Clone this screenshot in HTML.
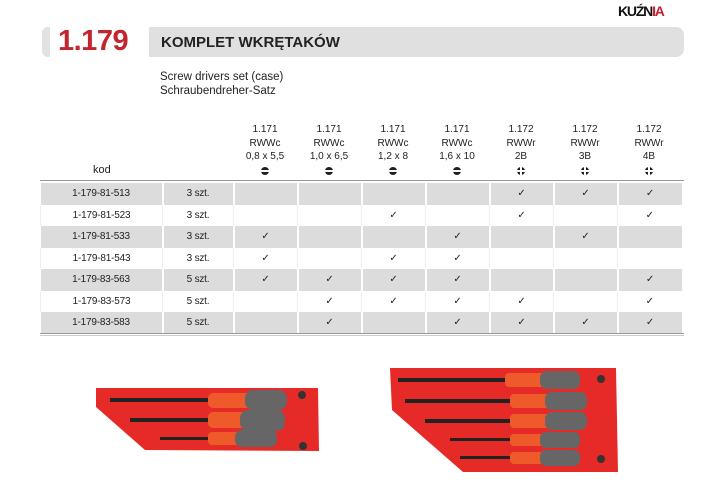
<!DOCTYPE html>
<html><head><meta charset="utf-8"><style>
body{margin:0;width:724px;height:482px;background:#fff;position:relative;overflow:hidden;font-family:"Liberation Sans",sans-serif;color:#222}
.abs{position:absolute}
table{position:absolute;left:40px;top:183px;border-collapse:collapse;font-size:10px;letter-spacing:-0.2px}
td{height:21.5px;padding:0;text-align:center;border-left:2px solid #fff;color:#222}
tr.g td{background:#dcdcdc}
tr.w td{border-left:1px solid #eee}
td:first-child{border-left:none}
.hd{position:absolute;top:123px;width:64px;text-align:center;font-size:10px;line-height:13.5px;color:#222}
.ic{display:inline-block;width:8px;height:8px;border-radius:50%;background:#222;position:relative;margin-top:3px}
.ic.s::after{content:"";position:absolute;left:0;right:0;top:3px;height:2px;background:#fff}
.ic.p::before{content:"";position:absolute;left:0;right:0;top:3px;height:2px;background:#fff}
.ic.p::after{content:"";position:absolute;top:0;bottom:0;left:3px;width:2px;background:#fff}
</style></head><body>
<div class="abs" style="left:618px;top:3px;font:bold 14px 'Liberation Sans',sans-serif;letter-spacing:-1.2px"><span style="color:#111">KUŹN</span><span style="color:#c8202a">IA</span></div>
<div class="abs" style="left:42px;top:27px;width:8px;height:30px;background:#e2e2e2;border-radius:6px 0 0 6px"></div>
<div class="abs" style="left:149px;top:27px;width:535px;height:30px;background:#e0e0e0;border-radius:0 8px 8px 0"></div>
<div class="abs" style="left:58px;top:25px;font:bold 29px 'Liberation Sans',sans-serif;color:#c3252d;letter-spacing:-0.5px">1.179</div>
<div class="abs" style="left:161px;top:34px;font:bold 15px 'Liberation Sans',sans-serif;color:#222">KOMPLET WKRĘTAKÓW</div>
<div class="abs" style="left:160px;top:70px;font-size:11.5px;line-height:14px;color:#222">Screw drivers set (case)<br>Schraubendreher-Satz</div>
<div class="abs" style="left:93px;top:164px;font-size:11px">kod</div>
<div class="hd" style="left:233px">1.171<br>RWWc<br>0,8 x 5,5<br><span class="ic s"></span></div>
<div class="hd" style="left:297px">1.171<br>RWWc<br>1,0 x 6,5<br><span class="ic s"></span></div>
<div class="hd" style="left:361px">1.171<br>RWWc<br>1,2 x 8<br><span class="ic s"></span></div>
<div class="hd" style="left:425px">1.171<br>RWWc<br>1,6 x 10<br><span class="ic s"></span></div>
<div class="hd" style="left:489px">1.172<br>RWWr<br>2B<br><span class="ic p"></span></div>
<div class="hd" style="left:553px">1.172<br>RWWr<br>3B<br><span class="ic p"></span></div>
<div class="hd" style="left:617px">1.172<br>RWWr<br>4B<br><span class="ic p"></span></div>
<div class="abs" style="left:40px;top:180px;width:644px;height:1px;background:#999"></div>
<table>
<colgroup><col style="width:122px"><col style="width:71px"><col style="width:64px"><col style="width:64px"><col style="width:64px"><col style="width:64px"><col style="width:64px"><col style="width:64px"><col style="width:64px"></colgroup>
<tr class="g"><td>1-179-81-513</td><td>3 szt.</td><td></td><td></td><td></td><td></td><td>✓</td><td>✓</td><td>✓</td></tr>
<tr class="w"><td>1-179-81-523</td><td>3 szt.</td><td></td><td></td><td>✓</td><td></td><td>✓</td><td></td><td>✓</td></tr>
<tr class="g"><td>1-179-81-533</td><td>3 szt.</td><td>✓</td><td></td><td></td><td>✓</td><td></td><td>✓</td><td></td></tr>
<tr class="w"><td>1-179-81-543</td><td>3 szt.</td><td>✓</td><td></td><td>✓</td><td>✓</td><td></td><td></td><td></td></tr>
<tr class="g"><td>1-179-83-563</td><td>5 szt.</td><td>✓</td><td>✓</td><td>✓</td><td>✓</td><td></td><td></td><td>✓</td></tr>
<tr class="w"><td>1-179-83-573</td><td>5 szt.</td><td></td><td>✓</td><td>✓</td><td>✓</td><td>✓</td><td></td><td>✓</td></tr>
<tr class="g"><td>1-179-83-583</td><td>5 szt.</td><td></td><td>✓</td><td></td><td>✓</td><td>✓</td><td>✓</td><td>✓</td></tr>
</table>
<div class="abs" style="left:40px;top:333px;width:644px;height:1px;background:#999"></div>
<div class="abs" style="left:40px;top:335px;width:644px;height:1px;background:#ccc"></div>
<svg class="abs" style="left:0;top:0" width="724" height="482">
<g>
<polygon points="96,388 318,388 319,451 145,450 96,407" fill="#e52a28"/>
<rect x="110" y="398" width="110" height="4" fill="#222"/><rect x="208" y="393" width="55" height="15" rx="5" fill="#ee5a2a"/><rect x="245" y="390" width="42" height="20" rx="8" fill="#666"/>
<rect x="130" y="418" width="100" height="4" fill="#222"/><rect x="208" y="412" width="55" height="16" rx="5" fill="#ee5a2a"/><rect x="240" y="410" width="45" height="21" rx="8" fill="#666"/>
<rect x="160" y="437" width="70" height="3" fill="#222"/><rect x="208" y="432" width="50" height="13" rx="4" fill="#ee5a2a"/><rect x="235" y="430" width="42" height="17" rx="7" fill="#666"/>
<circle cx="302" cy="395" r="4" fill="#333"/><circle cx="303" cy="446" r="4" fill="#333"/>
</g>
<g>
<polygon points="390,368 616,368 618,472 463,472 392,410" fill="#e52a28"/>
<rect x="398" y="378" width="120" height="4" fill="#222"/><rect x="505" y="373" width="55" height="14" rx="4" fill="#ee5a2a"/><rect x="540" y="371" width="40" height="18" rx="7" fill="#666"/>
<rect x="405" y="399" width="115" height="4" fill="#222"/><rect x="510" y="394" width="55" height="14" rx="4" fill="#ee5a2a"/><rect x="545" y="392" width="42" height="18" rx="7" fill="#666"/>
<rect x="425" y="419" width="95" height="4" fill="#222"/><rect x="510" y="414" width="55" height="14" rx="4" fill="#ee5a2a"/><rect x="545" y="412" width="42" height="18" rx="7" fill="#666"/>
<rect x="450" y="438" width="70" height="3" fill="#222"/><rect x="510" y="434" width="45" height="12" rx="4" fill="#ee5a2a"/><rect x="540" y="432" width="40" height="16" rx="6" fill="#666"/>
<rect x="460" y="456" width="60" height="3" fill="#222"/><rect x="510" y="452" width="45" height="12" rx="4" fill="#ee5a2a"/><rect x="540" y="450" width="40" height="16" rx="6" fill="#666"/>
<circle cx="601" cy="379" r="4" fill="#333"/><circle cx="601" cy="459" r="4" fill="#333"/>
</g>
</svg>
</body></html>
